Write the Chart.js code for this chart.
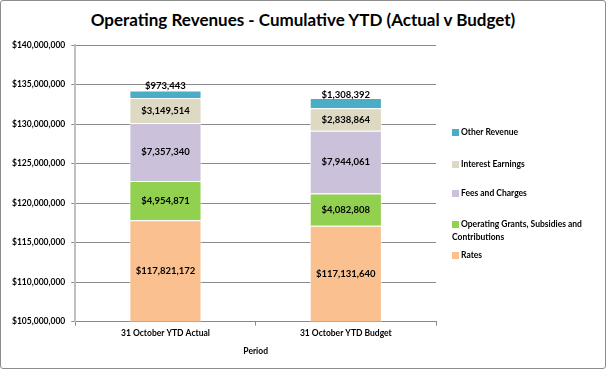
<html><head><meta charset="utf-8">
<script src="https://cdn.jsdelivr.net/npm/chart.js@4"></script>
<style>
 body { margin:0; background:#fff; font-family: Lato, "Open Sans", sans-serif; }
 #frame { position:absolute; left:0; top:0; width:604px; height:367px; border:1px solid #8c8c8c; border-radius:3px; }
 #title { position:absolute; left:0; width:606px; top:9px; text-align:center; font-weight:bold; font-size:17px; color:#000; }
 .leg { position:absolute; left:452px; width:145px; font-size:8.5px; font-weight:bold; line-height:13px; color:#000; }
 .leg i { display:inline-block; width:7px; height:7px; margin-right:2px; vertical-align:-0.5px; }
</style>
</head>
<body>
<div id="frame"></div>
<div id="title">Operating Revenues - Cumulative YTD (Actual v Budget)</div>
<div style="position:absolute;left:0;top:0;width:606px;height:370px"><canvas id="myChart" width="606" height="370"></canvas></div>
<div id="legend"></div>
<script>
var periods = ['31 October YTD Actual', '31 October YTD Budget'];
var seriesNames = ['Rates', 'Operating Grants, Subsidies and Contributions', 'Fees and Charges', 'Interest Earnings', 'Other Revenue'];
var legendNames = ['Rates', 'Operating Grants,  Subsidies and Contributions', 'Fees and Charges', 'Interest Earnings', 'Other Revenue'];
var rates = [117821172, 117131640];
var grants = [4954871, 4082808];
var fees = [7357340, 7944061];
var interest = [3149514, 2838864];
var other = [973443, 1308392];
var yTicks = [105000000, 110000000, 115000000, 120000000, 125000000, 130000000, 135000000, 140000000];

var colors = ['#fac090', '#92d050', '#ccc1da', '#ddd9c3', '#4bacc6'];
var values = [rates, grants, fees, interest, other];

// legend, top entry first like Excel
var legTops = [126, 158, 187, 218, 249];
var legHtml = '';
for (var i = 4; i >= 0; i--) {
  legHtml += '<div class="leg" style="top:' + legTops[4 - i] + 'px"><i style="background:' + colors[i] + '"></i>' + legendNames[i] + '</div>';
}
document.getElementById('legend').innerHTML = legHtml;

function money(v) { return '$' + v.toLocaleString('en-US'); }

var segLabels = {
  id: 'segLabels',
  afterDatasetsDraw: function(chart) {
    var ctx = chart.ctx, area = chart.chartArea;
    ctx.save();
    ctx.font = 'bold 9.5px Lato';
    ctx.fillStyle = '#000';
    ctx.textAlign = 'center';
    ctx.textBaseline = 'middle';
    chart.data.datasets.forEach(function(ds, di) {
      chart.getDatasetMeta(di).data.forEach(function(el, j) {
        var top = Math.max(el.y, area.top), bot = Math.min(el.base, area.bottom);
        var y = (top + bot) / 2;
        if (di === 4) y -= 8;
        ctx.fillText(money(ds.data[j]), el.x, y);
      });
    });
    ctx.restore();
  }
};

var ctx = document.getElementById('myChart');
var myChart = new Chart(ctx, {
  type: 'bar',
  data: {
    labels: periods,
    datasets: seriesNames.map(function(n, i) {
      return { label: n, data: values[i], backgroundColor: colors[i], borderColor: 'rgba(255,255,255,0.7)', borderWidth: 1,
               barPercentage: 0.8, categoryPercentage: 0.5 };
    })
  },
  options: {
    responsive: false,
    animation: false,
    layout: { padding: { top: 45, left: 6, right: 170, bottom: 14 } },
    plugins: { legend: { display: false }, title: { display: false }, tooltip: { enabled: false } },
    scales: {
      x: {
        stacked: true,
        grid: { drawOnChartArea: false, tickLength: 4, color: '#888' },
        border: { color: '#888' },
        ticks: { color: '#000', font: { family: 'Lato', size: 8.5, weight: 'bold' }, padding: 3 },
        title: { display: true, text: 'Period', color: '#000', font: { family: 'Lato', size: 8.5, weight: 'bold' }, padding: { top: 4, bottom: 0 } }
      },
      y: {
        stacked: true,
        min: yTicks[0], max: yTicks[yTicks.length - 1],
        afterBuildTicks: function(axis) { axis.ticks = yTicks.map(function(v) { return { value: v }; }); },
        grid: { color: '#8a8a8a', tickLength: 4 },
        border: { color: '#c0c0c0', width: 2 },
        ticks: { color: '#000', font: { family: 'Lato', size: 8.5, weight: 'bold' }, padding: 6,
                 callback: function(v) { return money(v); } }
      }
    }
  },
  plugins: [segLabels]
});
</script>
</body></html>
